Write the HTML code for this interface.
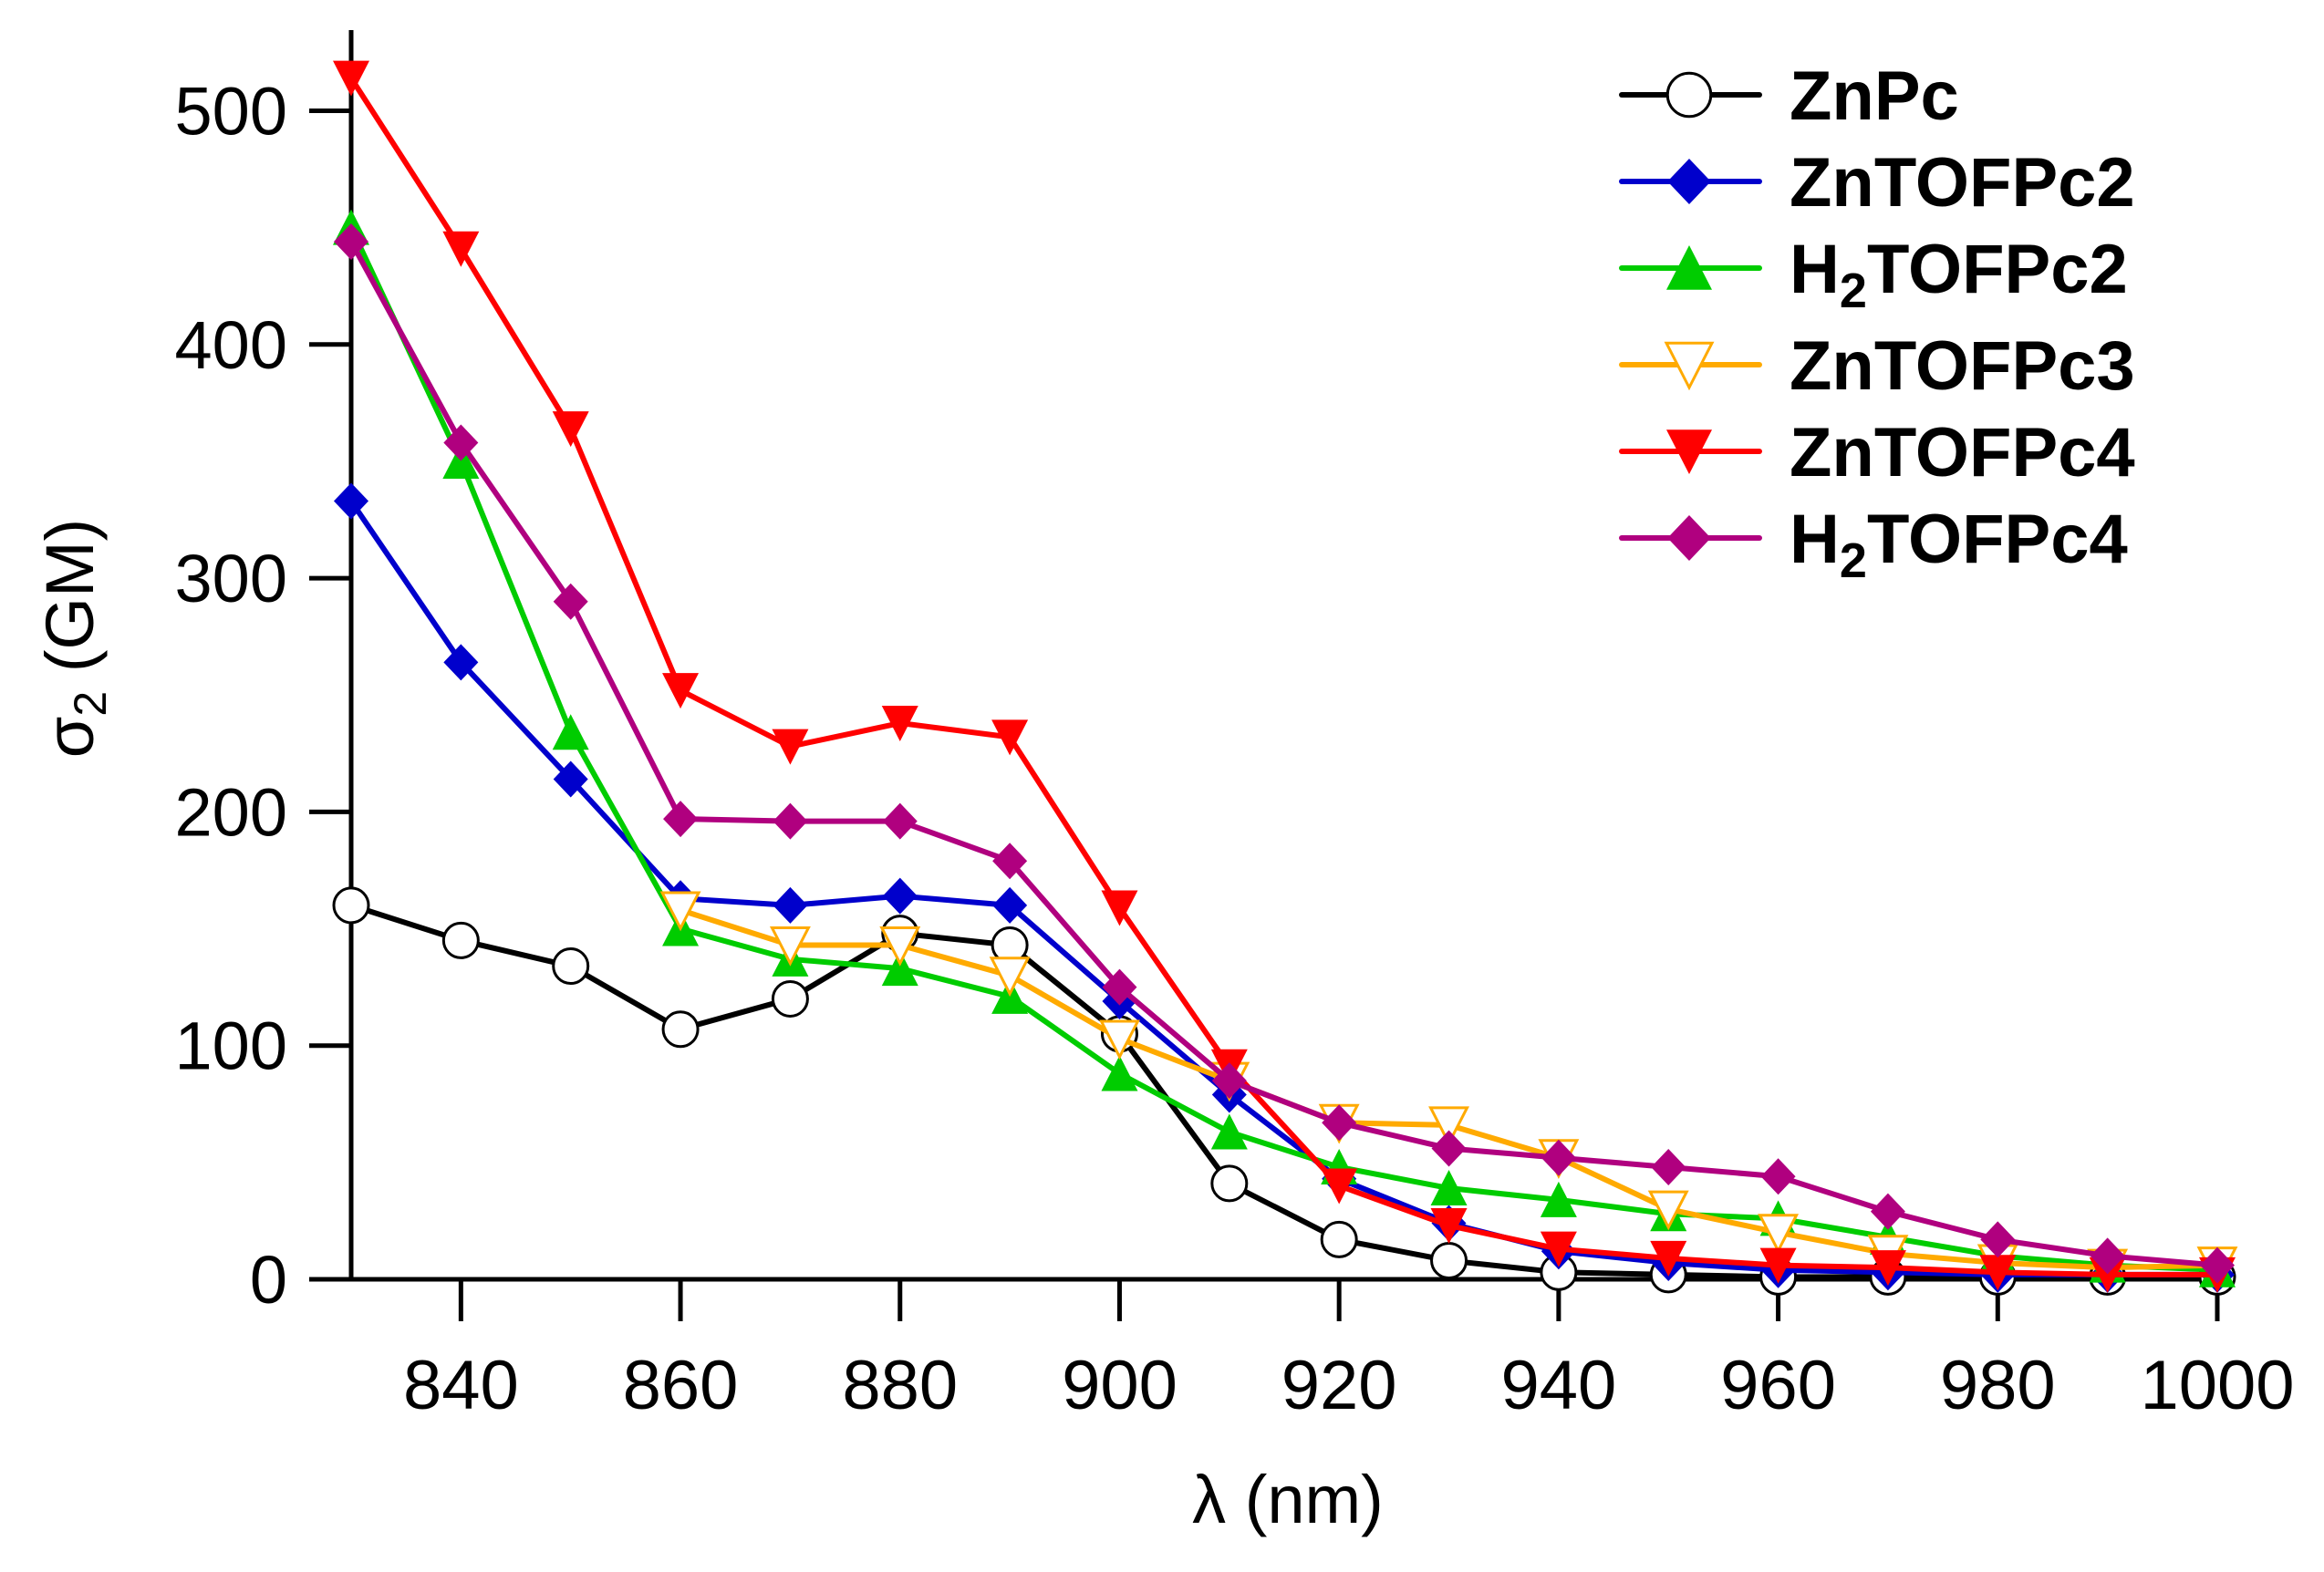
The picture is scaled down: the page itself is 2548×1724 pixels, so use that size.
<!DOCTYPE html>
<html><head><meta charset="utf-8"><style>
html,body{margin:0;padding:0;background:#fff;}
svg{display:block;font-family:"Liberation Sans",Arial,sans-serif;}
</style></head><body>
<svg id="chart" width="2548" height="1724" viewBox="0 0 2548 1724" xmlns="http://www.w3.org/2000/svg">
<g id="axes"></g>
<g id="series"></g>
<g id="legend"></g>
</svg>
<script>
const wavelengths = [830,840,850,860,870,880,890,900,910,920,930,940,950,960,970,980,990,1000];
const znpc      = [160,145,134,107,120,148,143,105,41,17,8,3,2,1,1,1,1,1];
const zntofpc2  = [333,264,214,163,160,164,160,119,79,43,24,12,7,4,3,2,2,2];
const h2tofpc2  = [450,350,234,150,137,133,121,88,63,48,39,34,28,26,18,10,6,4];
const zntofpc3  = [null,null,null,158,143,143,130,103,85,67,66,52,30,20,11,7,5,6];
const zntofpc4  = [514,441,364,252,228,238,232,159,91,40,23,13,9,6,5,3,2,2];
const h2tofpc4  = [444,358,290,197,196,196,179,125,85,67,56,52,48,44,29,17,10,6];
const xTicks = [840,860,880,900,920,940,960,980,1000];
const yTicks = [0,100,200,300,400,500];
const seriesNames = ["ZnPc","ZnTOFPc2","H2TOFPc2","ZnTOFPc3","ZnTOFPc4","H2TOFPc4"];

const NS="http://www.w3.org/2000/svg";
const X0=385, X1=2431, Y0=1403, PXPER100=256.3;
function xs(v){return X0+(v-830)*(X1-X0)/170;}
function ys(v){return Y0-v*PXPER100/100;}
function el(tag,attrs,parent){const e=document.createElementNS(NS,tag);for(const k in attrs)e.setAttribute(k,attrs[k]);parent.appendChild(e);return e;}

const axes=document.getElementById('axes');
let a=el('line',{x1:X0,y1:33,x2:X0,y2:Y0+2,stroke:'#000','stroke-width':5},axes);


a=el('line',{x1:X0-2,y1:Y0,x2:X1,y2:Y0,stroke:'#000','stroke-width':5},axes);


yTicks.forEach(t=>{
  const y=ys(t);
  const l=el('line',{x1:X0-46,y1:y,x2:X0,y2:y,stroke:'#000','stroke-width':5},axes);
  
  
  const tx=el('text',{x:315,y:y+26,'font-size':74,'text-anchor':'end'},axes);
  tx.textContent=t;
  
  
});
xTicks.forEach(t=>{
  const x=xs(t);
  const l=el('line',{x1:x,y1:Y0,x2:x,y2:Y0+46,stroke:'#000','stroke-width':5},axes);
  
  
  const tx=el('text',{x:x,y:1545,'font-size':76,'text-anchor':'middle'},axes);
  tx.textContent=t;
  
  
});
let t=el('text',{x:1412,y:1670,'font-size':74,'text-anchor':'middle'},axes);
t.textContent='λ (nm)';


t=el('text',{x:0,y:0,'font-size':74,'text-anchor':'middle',transform:'translate(102,700) rotate(-90)'},axes);
t.innerHTML='σ<tspan font-size="50" dy="14">2</tspan><tspan dy="-14"> (GM)</tspan>';



function marker(kind,cx,cy,r,color,parent){
  let m;
  if(kind==='circle') m=el('circle',{cx:cx,cy:cy,r:r*0.95,fill:'#fff',stroke:'#000','stroke-width':3},parent);
  else if(kind==='diamond') m=el('polygon',{points:`${cx},${cy-r} ${cx+r*0.95},${cy} ${cx},${cy+r} ${cx-r*0.95},${cy}`,fill:color},parent);
  else if(kind==='up') m=el('polygon',{points:`${cx},${cy-r} ${cx+r},${cy+r*0.95} ${cx-r},${cy+r*0.95}`,fill:color},parent);
  else if(kind==='down') m=el('polygon',{points:`${cx-r},${cy-r*0.95} ${cx+r},${cy-r*0.95} ${cx},${cy+r}`,fill:color},parent);
  else if(kind==='downOpen') m=el('polygon',{points:`${cx-r},${cy-r*0.95} ${cx+r},${cy-r*0.95} ${cx},${cy+r}`,fill:'#fff',stroke:color,'stroke-width':3},parent);
  return m;
}
const defs=[
 {name:'ZnPc',data:znpc,color:'#000',kind:'circle',key:'znpc'},
 {name:'ZnTOFPc2',data:zntofpc2,color:'#0000cc',kind:'diamond',key:'zntofpc2'},
 {name:'H2TOFPc2',data:h2tofpc2,color:'#00cc00',kind:'up',key:'h2tofpc2'},
 {name:'ZnTOFPc3',data:zntofpc3,color:'#ffaa00',kind:'downOpen',key:'zntofpc3'},
 {name:'ZnTOFPc4',data:zntofpc4,color:'#ff0000',kind:'down',key:'zntofpc4'},
 {name:'H2TOFPc4',data:h2tofpc4,color:'#b0007f',kind:'diamond',key:'h2tofpc4'}
];
const sg=document.getElementById('series');
defs.forEach(s=>{
  const g=el('g',{},sg);
  
  
  const pts=[];
  s.data.forEach((v,i)=>{if(v!==null)pts.push([xs(wavelengths[i]),ys(v)]);});
  const pl=el('polyline',{points:pts.map(p=>p.join(',')).join(' '),fill:'none',stroke:s.color,'stroke-width':6,'stroke-linejoin':'round'},g);
  
  
  pts.forEach(p=>{
    const m=marker(s.kind,p[0],p[1],20,s.color,g);
    
    
  });
});
const lg=document.getElementById('legend');
const rows=[104,199,294,400,495,590];
defs.forEach((s,i)=>{
  const y=rows[i];
  const g=el('g',{},lg);
  
  
  el('line',{x1:1778,y1:y,x2:1929,y2:y,stroke:s.color,'stroke-width':6,'stroke-linecap':'round'},g);
  marker(s.kind,1852,y,25,s.color,g);
  const tx=el('text',{x:1962,y:y+27,'font-size':76,'font-weight':'bold'},g);
  if(s.name.startsWith('H2')) tx.innerHTML='H<tspan font-size="54" dy="16">2</tspan><tspan dy="-16">'+s.name.slice(2)+'</tspan>';
  else tx.textContent=s.name;
});
</script>
</body></html>
